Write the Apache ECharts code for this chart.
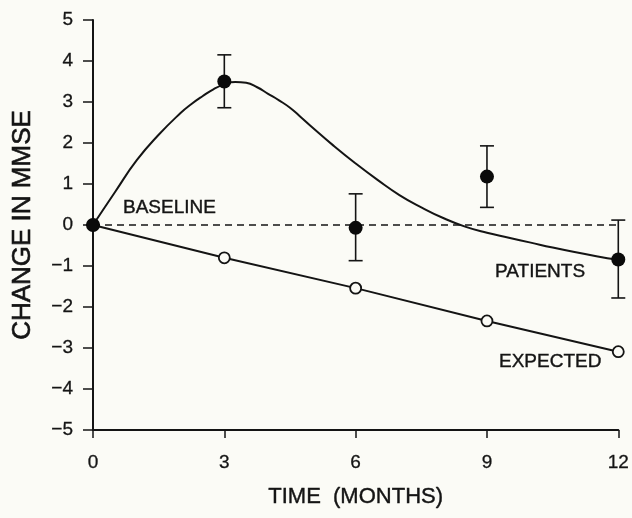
<!DOCTYPE html>
<html>
<head>
<meta charset="utf-8">
<script src="https://cdn.jsdelivr.net/npm/echarts@6/dist/echarts.min.js"></script>
<style>
  html, body { margin: 0; padding: 0; background: #fbfbf6; }
  #main { width: 632px; height: 518px; }
</style>
</head>
<body>
<div id="main"></div>
<script>
// measured points
var months = [0, 3, 6, 9, 12];
var patientMean = [0, 3.5, -0.07, 1.18, -0.84];
var patientLow = [0, 2.86, -0.87, 0.43, -1.78];
var patientHigh = [0, 4.15, 0.76, 1.93, 0.12];
var expected = [0, -0.8, -1.54, -2.34, -3.09];

// fitted curve for patients
var fitMonths = [0, 0.5, 1, 1.5, 2, 2.25, 2.5, 2.75, 3, 3.25, 3.5, 3.75, 4, 4.25, 4.5, 4.75, 5, 5.5, 6, 6.5, 7, 7.5, 8, 8.5, 9, 9.5, 10, 10.5, 11, 11.5, 12];
var fitValues = [0, 0.8, 1.58, 2.2, 2.73, 2.95, 3.14, 3.31, 3.43, 3.49, 3.47, 3.36, 3.2, 3.04, 2.86, 2.63, 2.39, 1.93, 1.5, 1.1, 0.73, 0.43, 0.17, -0.04, -0.19, -0.31, -0.43, -0.55, -0.66, -0.76, -0.85];

var baseMonths = [0, 12];
var baseValues = [0, 0];

function pairs(xs, ys) {
  return xs.map(function (x, i) { return [x, ys[i]]; });
}

var ink = '#141414';
var font = 'Liberation Sans';

var myChart = echarts.init(document.getElementById('main'));

function tag(text, x, y) {
  return {
    type: 'text', x: x, y: y,
    style: {
      text: text, fill: ink, fontSize: 19, fontFamily: font,
      verticalAlign: 'middle', stroke: ink, lineWidth: 0.4
    }
  };
}

var option = {
  backgroundColor: '#fbfbf6',
  animation: false,
  grid: { left: 93, right: 11, top: 20, bottom: 88 },
  xAxis: {
    type: 'value',
    min: 0,
    max: 12,
    interval: 3,
    name: 'TIME  (MONTHS)',
    nameLocation: 'middle',
    nameGap: 56,
    nameTextStyle: { color: ink, fontSize: 22, fontFamily: font, textBorderColor: ink, textBorderWidth: 0.4 },
    axisLine: { onZero: false, lineStyle: { color: ink, width: 2 } },
    axisTick: { length: 8, lineStyle: { color: ink, width: 1.5 } },
    axisLabel: { color: ink, fontSize: 19, fontFamily: font, margin: 23, textBorderColor: ink, textBorderWidth: 0.3 },
    splitLine: { show: false }
  },
  yAxis: {
    type: 'value',
    min: -5,
    max: 5,
    interval: 1,
    name: 'CHANGE IN MMSE',
    nameLocation: 'middle',
    nameGap: 57,
    nameTextStyle: { color: ink, fontSize: 26, fontFamily: font, textBorderColor: ink, textBorderWidth: 0.6 },
    axisLine: { show: true, lineStyle: { color: ink, width: 2 } },
    axisTick: { show: true, length: 10, lineStyle: { color: ink, width: 1.5 } },
    axisLabel: {
      color: ink, fontSize: 19, fontFamily: font, margin: 20, textBorderColor: ink, textBorderWidth: 0.3,
      formatter: function (v) { return v < 0 ? '\u2212' + Math.abs(v) : String(v); }
    },
    splitLine: { show: false }
  },
  series: [
    {
      name: 'baseline',
      type: 'line',
      data: pairs(baseMonths, baseValues),
      symbol: 'none',
      lineStyle: { color: ink, width: 1.6, type: [7, 5] },
      z: 1
    },
    {
      name: 'expected',
      type: 'line',
      data: pairs(months, expected),
      symbol: 'circle',
      symbolSize: 11,
      itemStyle: { color: '#fbfbf6', borderColor: ink, borderWidth: 1.8 },
      lineStyle: { color: ink, width: 2 },
      z: 3
    },
    {
      name: 'fit',
      type: 'line',
      data: pairs(fitMonths, fitValues),
      smooth: true,
      symbol: 'none',
      lineStyle: { color: ink, width: 2 },
      z: 2
    },
    {
      name: 'error',
      type: 'custom',
      data: months.map(function (m, i) { return [m, patientLow[i], patientHigh[i]]; }),
      renderItem: function (params, api) {
        var lo = api.coord([api.value(0), api.value(1)]);
        var hi = api.coord([api.value(0), api.value(2)]);
        var w = 7;
        var st = { stroke: ink, lineWidth: 1.6 };
        return {
          type: 'group',
          children: [
            { type: 'line', shape: { x1: lo[0], y1: lo[1], x2: hi[0], y2: hi[1] }, style: st },
            { type: 'line', shape: { x1: lo[0] - w, y1: lo[1], x2: lo[0] + w, y2: lo[1] }, style: st },
            { type: 'line', shape: { x1: hi[0] - w, y1: hi[1], x2: hi[0] + w, y2: hi[1] }, style: st }
          ]
        };
      },
      z: 4
    },
    {
      name: 'patients',
      type: 'scatter',
      data: pairs(months, patientMean),
      symbol: 'circle',
      symbolSize: 14,
      itemStyle: { color: '#0a0a0a', opacity: 1 },
      z: 5
    }
  ],
  graphic: [
    tag('BASELINE', 123, 208),
    tag('PATIENTS', 495, 272),
    tag('EXPECTED', 499, 362)
  ]
};

myChart.setOption(option);
</script>
</body>
</html>
